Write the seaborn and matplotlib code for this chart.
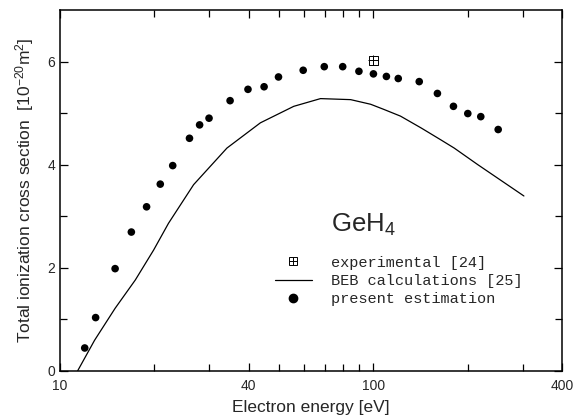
import numpy as np
import pandas as pd
import matplotlib
matplotlib.use("Agg")
import matplotlib.pyplot as plt
import seaborn as sns
from matplotlib.ticker import FixedLocator, NullFormatter
from matplotlib.legend_handler import HandlerTuple

# present estimation (dots)
est_energy = [12.0, 13.0, 15.0, 16.9, 18.9, 20.9, 22.9, 25.9, 27.9, 29.9, 34.9, 39.8,
              44.8, 49.8, 59.7, 69.7, 79.8, 89.9, 100, 110, 120, 140, 160, 180, 200, 220, 250]
est_sigma = [0.44, 1.03, 1.98, 2.69, 3.18, 3.62, 3.98, 4.51, 4.77, 4.90, 5.24, 5.46,
             5.51, 5.70, 5.83, 5.90, 5.90, 5.81, 5.76, 5.71, 5.67, 5.61, 5.38, 5.13, 4.99, 4.93, 4.68]

# BEB calculations (line)
beb_energy = [11.4, 12.9, 15.0, 17.4, 19.9, 22.2, 26.7, 34.1, 43.6, 55.7, 67.8, 84.6,
              98.0, 108, 122, 142, 164, 181, 215, 302]
beb_sigma = [0.0, 0.59, 1.21, 1.76, 2.34, 2.86, 3.61, 4.32, 4.81, 5.13, 5.28, 5.26,
             5.17, 5.07, 4.94, 4.71, 4.48, 4.32, 4.00, 3.39]

# experimental
exp_energy = [100]
exp_sigma = [6.02]

sns.set_style("ticks")
plt.rcParams["font.family"] = ["Liberation Sans", "DejaVu Sans"]
plt.rcParams["mathtext.fontset"] = "custom"
plt.rcParams["mathtext.rm"] = "Liberation Sans"
plt.rcParams["mathtext.it"] = "Liberation Sans"

fig, ax = plt.subplots(figsize=(5.76, 4.16), dpi=100)
fig.subplots_adjust(left=0.104, right=0.976, top=0.976, bottom=0.109)

beb = pd.DataFrame({"E": beb_energy, "s": beb_sigma})
est = pd.DataFrame({"E": est_energy, "s": est_sigma})
exp = pd.DataFrame({"E": exp_energy, "s": exp_sigma})

sns.lineplot(data=beb, x="E", y="s", color="black", linewidth=0.9, ax=ax)
sns.scatterplot(data=est, x="E", y="s", color="black", s=30, edgecolor="none", ax=ax)
sns.scatterplot(data=exp, x="E", y="s", marker="s", s=50, facecolor="none",
                edgecolor="black", linewidth=0.7, ax=ax)
sns.scatterplot(data=exp, x="E", y="s", marker="+", s=50, color="black",
                linewidth=0.7, ax=ax)

ax.set_xscale("log")
ax.set_xlim(10, 400)
ax.set_ylim(0, 7)
ax.xaxis.set_major_locator(FixedLocator([10, 40, 100, 400]))
ax.xaxis.set_minor_locator(FixedLocator([20, 30, 50, 60, 70, 80, 90, 200, 300]))
ax.set_xticklabels(["10", "40", "100", "400"])
ax.xaxis.set_minor_formatter(NullFormatter())
ax.set_yticks([0, 2, 4, 6])
ax.set_yticks([1, 3, 5], minor=True)

ax.tick_params(which="both", direction="in", top=True, right=True, labelsize=10,
               width=0.9, color="black")
ax.tick_params(which="major", length=6)
ax.tick_params(which="minor", length=5)
ax.tick_params(axis="x", pad=6)
for sp in ax.spines.values():
    sp.set_linewidth(1.1)
    sp.set_color("black")

ax.set_xlabel("Electron energy [eV]", fontsize=12.5, labelpad=5)
ax.set_ylabel("Total ionization cross section  [10$^{-20}$m$^{2}$]", fontsize=12.5, labelpad=8)

ax.text(0.54, 0.404, "GeH$_4$", transform=ax.transAxes, fontsize=18.5, va="center", ha="left")

h_exp = (plt.Line2D([], [], marker="s", markersize=6, markerfacecolor="none",
                    markeredgecolor="black", markeredgewidth=0.7, linestyle="none"),
         plt.Line2D([], [], marker="+", markersize=6, color="black",
                    markeredgewidth=0.7, linestyle="none"))
h_beb = plt.Line2D([], [], color="black", linewidth=0.9)
h_est = plt.Line2D([], [], marker="o", markersize=6, color="black", linestyle="none")
ax.legend([h_exp, h_beb, h_est],
          ["experimental [24]", "BEB calculations [25]", "present estimation"],
          handler_map={tuple: HandlerTuple(ndivide=1, pad=0)},
          loc="upper left", bbox_to_anchor=(0.428, 0.319), frameon=False,
          prop={"family": "Liberation Mono", "size": 11},
          handlelength=2.4, handletextpad=1.25, labelspacing=0.28,
          borderaxespad=0, borderpad=0)

fig.savefig("out.png", dpi=100)
